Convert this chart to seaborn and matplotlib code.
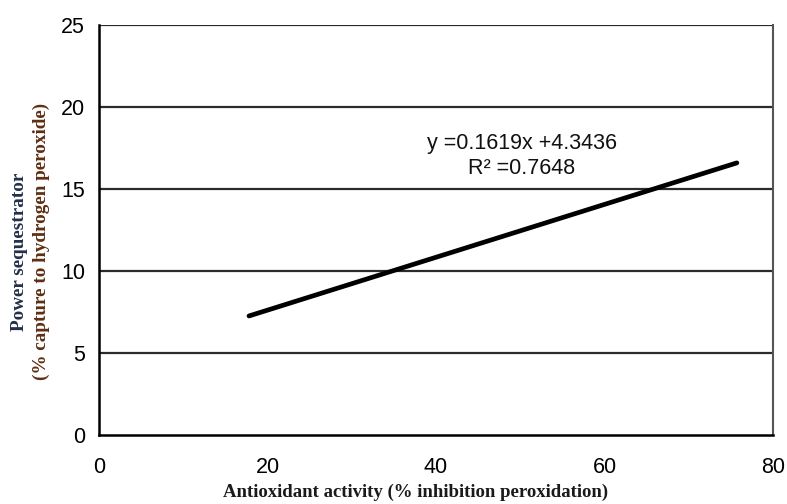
import matplotlib
matplotlib.use("Agg")
import matplotlib.pyplot as plt
import numpy as np
import pandas as pd
import seaborn as sns

# Trend line endpoints
activity = [17.8, 75.7]
sequestration = [7.26, 16.6]

x_ticks = [0, 20, 40, 60, 80]
y_ticks = [0, 5, 10, 15, 20, 25]

equation = "y =0.1619x +4.3436"
r_squared = "R² =0.7648"

sns.set_theme(style="white")
plt.rcParams["font.family"] = ["Liberation Sans", "DejaVu Sans"]
plt.rcParams["text.color"] = "black"

df = pd.DataFrame({"activity": activity, "sequestration": sequestration})

fig = plt.figure(figsize=(7.87, 5.04), dpi=100)
ax = fig.add_axes([0.1258, 0.137, 0.8565, 0.813])

# horizontal grid
for yv in y_ticks[1:]:
    ax.axhline(yv, color="#2b2b2b", linewidth=1.6, zorder=1)

sns.lineplot(data=df, x="activity", y="sequestration", ax=ax,
             color="black", linewidth=3.4, zorder=3)

ax.set_xlim(0, 80)
ax.set_ylim(0, 25)
ax.set_xticks(x_ticks)
ax.set_yticks(y_ticks)
ax.tick_params(axis="both", direction="out", length=5, width=1.5,
               colors="black", labelsize=15.5, pad=5)
ax.tick_params(axis="x", pad=11)

for side in ["left", "bottom"]:
    ax.spines[side].set_color("black")
    ax.spines[side].set_linewidth(1.8)
ax.spines["right"].set_color("#555555")
ax.spines["right"].set_linewidth(1.5)
ax.spines["top"].set_visible(False)

ax.text(50.2, 17.8, equation, ha="center", va="center", fontsize=15.5,
        color="#111111")
ax.text(50.2, 16.25, r_squared, ha="center", va="center", fontsize=15.5,
        color="#111111")

ax.set_xlabel("Antioxidant activity (% inhibition peroxidation)",
              family="Liberation Serif", fontweight="bold", fontsize=13.5,
              color="#1a1a1a")
ax.xaxis.set_label_coords(0.47, -0.12)
ax.set_ylabel("")

fig.text(0.025, 0.5, "Power sequestrator", rotation=90, ha="center",
         va="center", family="Liberation Serif", fontweight="bold",
         fontsize=13.8, color="#24304a")
fig.text(0.052, 0.52, "(% capture to hydrogen peroxide)", rotation=90,
         ha="center", va="center", family="Liberation Serif",
         fontweight="bold", fontsize=13.8, color="#5e2e12")

fig.savefig("out.png", dpi=100)
plt.close(fig)
